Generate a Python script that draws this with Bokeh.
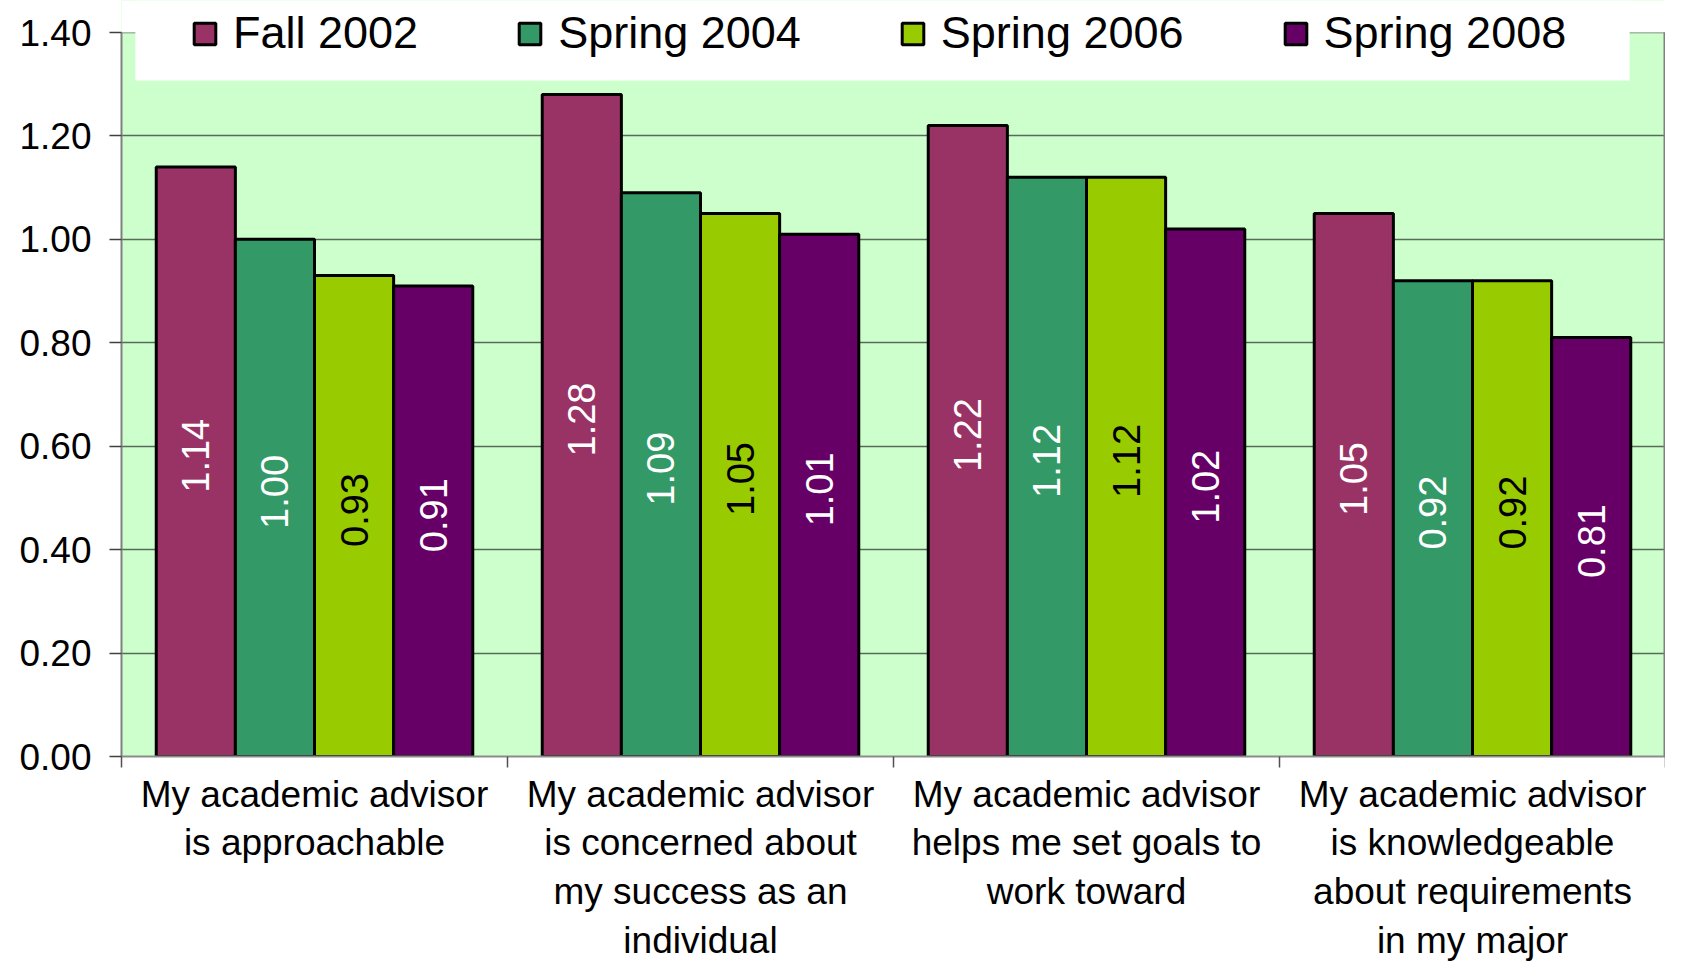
import numpy as np
from bokeh.plotting import figure
from bokeh.models import (ColumnDataSource, Range1d, FixedTicker, NumeralTickFormatter,
                          Legend, LegendItem, BoxAnnotation)
from bokeh.transform import dodge
from bokeh.core.properties import value
from bokeh.embed import file_html
from bokeh.resources import INLINE

# ---------------- data ----------------
categories = [
    "My academic advisor\nis approachable",
    "My academic advisor\nis concerned about\nmy success as an\nindividual",
    "My academic advisor\nhelps me set goals to\nwork toward",
    "My academic advisor\nis knowledgeable\nabout requirements\nin my major",
]
series_names = ["Fall 2002", "Spring 2004", "Spring 2006", "Spring 2008"]
fall_2002 = [1.14, 1.28, 1.22, 1.05]
spring_2004 = [1.00, 1.09, 1.12, 0.92]
spring_2006 = [0.93, 1.05, 1.12, 0.92]
spring_2008 = [0.91, 1.01, 1.02, 0.81]
y_ticks = [0.0, 0.2, 0.4, 0.6, 0.8, 1.0, 1.2, 1.4]

series_values = [fall_2002, spring_2004, spring_2006, spring_2008]

# ---------------- style ----------------
colors = ["#993366", "#339966", "#99CC00", "#660066"]
label_colors = ["white", "white", "black", "white"]
offsets = [-0.3075, -0.1025, 0.1025, 0.3075]
bar_width = 0.205
FONT = "Liberation Sans"

n = len(categories)
centers = [i + 0.5 for i in range(n)]
y_max = y_ticks[-1]

PX_PER_UNIT = 724 / y_max          # plot area: 1.40 units over 724 px
TOP_PAD = 32                       # white strip above the 1.40 line
FRAME_H = 724 + TOP_PAD

p = figure(frame_width=1544, frame_height=FRAME_H,
           x_range=Range1d(0, n), y_range=Range1d(0, y_max + TOP_PAD / PX_PER_UNIT),
           output_backend="svg", toolbar_location=None,
           min_border_left=121, min_border_right=0,
           min_border_top=0, min_border_bottom=196)

p.background_fill_color = "#CCFFCC"
p.border_fill_color = "white"
p.outline_line_color = None

# grid
p.xgrid.grid_line_color = None
p.ygrid.grid_line_color = "#5a6a5a"
p.ygrid.grid_line_width = 1.5

# y axis
p.yaxis.ticker = FixedTicker(ticks=y_ticks)
p.yaxis.bounds = (0, y_max)
p.yaxis.formatter = NumeralTickFormatter(format="0.00")
p.yaxis.axis_line_color = "#808080"
p.yaxis.axis_line_width = 2
p.yaxis.major_tick_line_color = "#404040"
p.yaxis.major_tick_line_width = 1.5
p.yaxis.major_tick_out = 12
p.yaxis.major_tick_in = 0
p.yaxis.minor_tick_line_color = None
p.yaxis.major_label_standoff = 18
p.yaxis.major_label_text_font = FONT
p.yaxis.major_label_text_font_size = "37px"
p.yaxis.major_label_text_color = "black"

# x axis
p.xaxis.ticker = FixedTicker(ticks=centers, minor_ticks=list(range(n + 1)))
p.xaxis.major_label_overrides = {c: lab for c, lab in zip(centers, categories)}
p.xaxis.axis_line_color = "#8c8c8c"
p.xaxis.axis_line_width = 2
p.xaxis.major_tick_line_color = None
p.xaxis.major_tick_out = 0
p.xaxis.major_tick_in = 0
p.xaxis.minor_tick_line_color = "#505050"
p.xaxis.minor_tick_line_width = 1.5
p.xaxis.minor_tick_out = 11
p.xaxis.minor_tick_in = 0
p.xaxis.major_label_standoff = 6
p.xaxis.major_label_text_font = FONT
p.xaxis.major_label_text_font_size = "37px"
p.xaxis.major_label_text_line_height = 1.19
p.xaxis.major_label_text_color = "black"

# white area above the 1.40 line
p.add_layout(BoxAnnotation(bottom=y_max, fill_color="white", fill_alpha=1.0,
                           line_color=None, level="underlay"))

renderers = []
for name, vals, col, lcol, off in zip(series_names, series_values, colors, label_colors, offsets):
    src = ColumnDataSource(dict(
        x=centers,
        top=vals,
        half=[v / 2 for v in vals],
        label=[f"{v:.2f}" for v in vals],
    ))
    r = p.vbar(x=dodge("x", off, range=p.x_range), top="top", width=bar_width, bottom=0,
               source=src, fill_color=col, line_color="black", line_width=3)
    renderers.append(r)
    p.text(x=dodge("x", off, range=p.x_range), y="half", text="label", source=src,
           angle=np.pi / 2, text_align="center", text_baseline="middle", y_offset=-6,
           text_color=lcol, text_font=value(FONT), text_font_size="38px")

# right edge of the plot area
p.segment(x0=[n], y0=[0], x1=[n], y1=[y_max], line_color="#808080", line_width=4)

# white legend backdrop
p.add_layout(BoxAnnotation(left=0.036, right=3.907, bottom=y_max - 48 / PX_PER_UNIT,
                           fill_color="white", fill_alpha=1.0, line_color=None))

legend = Legend(items=[LegendItem(label=nm, renderers=[r]) for nm, r in zip(series_names, renderers)],
                location=(70, FRAME_H - 59), orientation="horizontal",
                padding=0, margin=0, spacing=98, label_standoff=15,
                glyph_width=27, glyph_height=27, label_height=46,
                label_text_font=FONT, label_text_font_size="45px",
                label_text_color="black",
                background_fill_alpha=0, border_line_color=None)
p.add_layout(legend)

open("out.html", "w").write(file_html(p, INLINE))
